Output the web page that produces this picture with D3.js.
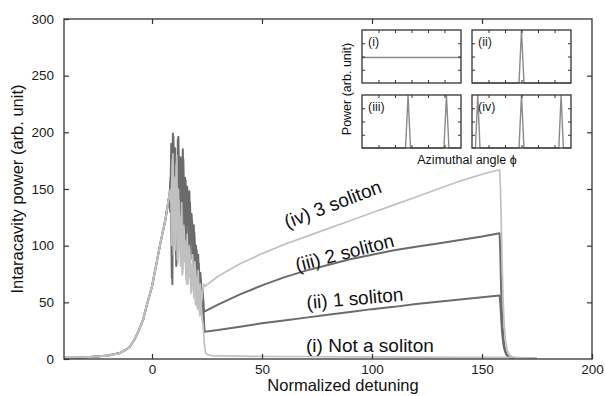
<!DOCTYPE html>
<html>
<head>
<meta charset="utf-8">
<script src="https://cdn.jsdelivr.net/npm/d3@7"></script>
<style>
  body { margin: 0; background: #fff; }
  svg { display: block; font-family: "Liberation Sans", Arial, Helvetica, sans-serif; }
</style>
</head>
<body>
<svg id="chart" width="605" height="396"></svg>
<script>
// axis ticks
const xTicks = [0, 50, 100, 150, 200];
const yTicks = [0, 50, 100, 150, 200, 250, 300];

// shared rise of the cavity power before the chaotic region (detuning, power)
const rise = [[-40, 1], [-35, 1.2], [-30, 1.6], [-25, 2.2], [-20, 3], [-15, 5], [-12, 8], [-10, 11],
  [-8, 17], [-6, 25], [-4, 35], [-2, 50], [0, 64], [2, 84], [4, 104], [6, 122], [7, 134], [8, 146]];

// chaotic region, one trace per run
const chaos1 = [[8.75, 140], [9.25, 176], [9.75, 92], [10.25, 160], [10.75, 120], [11.25, 180], [11.75, 84],
  [12.25, 140], [12.75, 98], [13.25, 126], [13.75, 74], [14.25, 112], [14.75, 86], [15.25, 104], [15.75, 66],
  [16.25, 98], [16.75, 72], [17.25, 92], [17.75, 58], [18.25, 84], [18.75, 64], [19.25, 80], [19.75, 48],
  [20.25, 72], [20.75, 44], [21.25, 66], [21.75, 38], [22.25, 52], [22.75, 36], [23.25, 30]];
const chaos2 = [[8.25, 130], [8.75, 190], [9.25, 66], [9.75, 196], [10.25, 110], [10.75, 172], [11.25, 90],
  [11.75, 194], [12.25, 150], [12.75, 100], [13.25, 168], [13.75, 140], [14.25, 176], [14.75, 98], [15.25, 158],
  [15.75, 120], [16.25, 146], [16.75, 84], [17.25, 138], [17.75, 108], [18.25, 122], [18.75, 76], [19.25, 112],
  [19.75, 90], [20.25, 96], [20.75, 64], [21.25, 84], [21.75, 56], [22.25, 70], [22.75, 40], [23.25, 52], [23.75, 28]];
const chaos3 = [[8.5, 160], [9, 72], [9.5, 199], [10, 140], [10.5, 186], [11, 82], [11.5, 150], [12, 196],
  [12.5, 120], [13, 178], [13.5, 96], [14, 185], [14.5, 130], [15, 160], [15.5, 92], [16, 152], [16.5, 118],
  [17, 148], [17.5, 88], [18, 128], [18.5, 104], [19, 118], [19.5, 72], [20, 100], [20.5, 82], [21, 92],
  [21.5, 60], [22, 76], [22.5, 50], [23, 62], [23.5, 44]];
const chaos4 = [[8.5, 150], [9, 100], [9.5, 181], [10, 130], [10.5, 96], [11, 172], [11.5, 88], [12, 150],
  [12.5, 110], [13, 82], [13.5, 138], [14, 76], [14.5, 118], [15, 96], [15.5, 70], [16, 110], [16.5, 66],
  [17, 100], [17.5, 80], [18, 60], [18.5, 92], [19, 54], [19.5, 86], [20, 66], [20.5, 46], [21, 78],
  [21.5, 42], [22, 66], [22.5, 50], [23, 60], [23.5, 66]];

// soliton branches and the final drop
const branch1 = [[23.75, 15], [24.25, 6], [25, 4], [27, 3], [30, 2.8], [40, 2.5], [60, 2.2], [80, 2],
  [100, 1.8], [120, 1.6], [140, 1.5], [158, 1.4], [165, 1.2], [175, 1.1]];
const branch2 = [[24, 24], [30, 25.5], [40, 28.5], [50, 31.5], [60, 34], [70, 36.5], [80, 39], [90, 41.5],
  [100, 44], [110, 46], [120, 48.5], [130, 50.5], [140, 52.5], [150, 54.5], [158, 56],
  [158.3, 50], [158.6, 40], [158.9, 30], [159.3, 20], [159.8, 12], [160.4, 7], [161, 4], [161.8, 2], [163, 1.2], [165, 0.8]];
const branch3 = [[24, 42], [30, 48], [40, 57], [50, 65], [60, 72], [70, 78], [80, 83], [90, 88],
  [100, 92], [110, 96], [120, 99], [130, 102], [140, 105], [150, 108], [158, 111],
  [158.3, 95], [158.6, 70], [158.9, 48], [159.3, 30], [159.8, 17], [160.4, 9], [161, 5], [161.8, 2.5], [163, 1.2], [165, 0.8]];
const branch4 = [[24, 64], [30, 73], [40, 84], [50, 93], [60, 101], [70, 108], [80, 115], [90, 122],
  [100, 129], [110, 136], [120, 143], [130, 150], [140, 157], [150, 163], [158, 167],
  [158.4, 150], [158.8, 115], [159.2, 80], [159.6, 52], [160.1, 30], [160.7, 16], [161.4, 8], [162.3, 4], [163.5, 2], [166, 1.3], [175, 1]];

// curve labels: text, anchor (detuning, power), rotation
const labelText = ["(i) Not a soliton", "(ii) 1 soliton", "(iii) 2 soliton", "(iv) 3 soliton"];
const labelPos = [[70, 6], [70.5, 44], [66, 77], [61.5, 115]];
const labelRot = [0, -5, -14.5, -21];

// inset: azimuthal profiles (angle fraction, normalised power)
const panelNames = ["(i)", "(ii)", "(iii)", "(iv)"];
const panelTraces = [
  [[0, 0.48], [1, 0.48]],
  [[0, 0], [0.475, 0], [0.5, 1], [0.525, 0], [1, 0]],
  [[0, 0], [0.44, 0], [0.465, 1], [0.49, 0], [0.828, 0], [0.853, 1], [0.878, 0], [1, 0]],
  [[0, 0], [0.035, 0], [0.058, 1], [0.081, 0], [0.475, 0], [0.5, 1], [0.525, 0], [0.877, 0], [0.9, 1], [0.923, 0], [1, 0]]
];

const dark = '#6b6b6b', light = '#c0c0c0';
const series = [
  {pts: rise.concat(chaos3, branch3), color: dark, w: 2},
  {pts: rise.concat(chaos2, branch2), color: dark, w: 2},
  {pts: rise.concat(chaos4, branch4), color: light, w: 1.7},
  {pts: rise.concat(chaos1, branch1), color: light, w: 1.7}
];

const svg = d3.select('#chart');
const margin = {top: 19, right: 13, bottom: 37, left: 64};
const width = +svg.attr('width') - margin.left - margin.right;
const height = +svg.attr('height') - margin.top - margin.bottom;

const x = d3.scaleLinear().domain([-40, 200]).range([0, width]);
const y = d3.scaleLinear().domain([0, 300]).range([height, 0]);

const g = svg.append('g')
  .attr('transform', 'translate(' + margin.left + ',' + margin.top + ')');

const line1 = d3.line()
  .x(function(d) { return x(d[0]); })
  .y(function(d) { return y(d[1]); });

g.selectAll('path.run')
  .data(series)
  .enter().append('path')
  .attr('class', 'run')
  .attr('fill', 'none')
  .attr('stroke', function(d) { return d.color; })
  .attr('stroke-width', function(d) { return d.w; })
  .attr('stroke-linejoin', 'round')
  .attr('d', function(d) { return line1(d.pts); });

// frame + inward ticks
function styleAxis(a) {
  a.select('.domain').remove();
  a.selectAll('.tick line').attr('stroke', '#333').attr('stroke-width', 1.2);
  a.selectAll('.tick text').attr('fill', '#1a1a1a').style('font-size', '13.5px');
}

g.append('g')
  .attr('transform', 'translate(0,' + height + ')')
  .call(d3.axisBottom(x).tickValues(xTicks).tickSizeInner(-5).tickSizeOuter(0).tickPadding(5))
  .call(styleAxis);
g.append('g')
  .call(d3.axisLeft(y).tickValues(yTicks).tickSizeInner(-5).tickSizeOuter(0).tickPadding(10))
  .call(styleAxis);
g.append('g')
  .call(d3.axisTop(x).tickValues(xTicks.slice(0, 4)).tickSizeInner(-5).tickSizeOuter(0).tickFormat(''))
  .call(styleAxis);
g.append('g')
  .attr('transform', 'translate(' + width + ',0)')
  .call(d3.axisRight(y).tickValues(yTicks.slice(1, 6)).tickSizeInner(-5).tickSizeOuter(0).tickFormat(''))
  .call(styleAxis);

g.append('rect')
  .attr('width', width).attr('height', height)
  .attr('fill', 'none').attr('stroke', '#333').attr('stroke-width', 1.3);

// axis titles
svg.append('text')
  .attr('x', 343).attr('y', 391)
  .attr('text-anchor', 'middle')
  .style('font-size', '16.5px')
  .attr('fill', '#111')
  .text('Normalized detuning');
svg.append('text')
  .attr('transform', 'translate(23,' + (margin.top + height / 2) + ')rotate(-90)')
  .attr('text-anchor', 'middle')
  .style('font-size', '16.5px')
  .attr('fill', '#111')
  .text('Intaracavity power (arb. unit)');

// curve labels
g.selectAll('text.lab')
  .data(labelText)
  .enter().append('text')
  .attr('class', 'lab')
  .attr('transform', function(d, i) {
    return 'translate(' + x(labelPos[i][0]) + ',' + y(labelPos[i][1]) + ')rotate(' + labelRot[i] + ')';
  })
  .style('font-size', '19px')
  .attr('fill', '#111')
  .text(function(d) { return d; });

// inset
const pw = 99, ph = 53;
const cols = [362, 472], rows = [30, 95];
const ix = d3.scaleLinear().domain([0, 1]).range([0, pw]);
const iy = d3.scaleLinear().domain([0, 1]).range([ph, 0]);
const iline = d3.line().x(function(d) { return ix(d[0]); }).y(function(d) { return iy(d[1]); });
const phiTicks = [1 / 6, 2 / 6, 3 / 6, 4 / 6, 5 / 6];
const powTicks = [0.25, 0.5, 0.75];

function styleSmall(a) {
  a.select('.domain').remove();
  a.selectAll('.tick line').attr('stroke', '#333').attr('stroke-width', 1);
}

panelTraces.forEach(function(tr, i) {
  const p = svg.append('g')
    .attr('transform', 'translate(' + cols[i % 2] + ',' + rows[Math.floor(i / 2)] + ')');
  p.append('rect').attr('width', pw).attr('height', ph).attr('fill', '#fff');
  p.append('path')
    .attr('fill', 'none')
    .attr('stroke', '#8a8a8a')
    .attr('stroke-width', 1.4)
    .attr('d', iline(tr));
  p.append('g').attr('transform', 'translate(0,' + ph + ')')
    .call(d3.axisBottom(ix).tickValues(phiTicks).tickSizeInner(-3).tickSizeOuter(0).tickFormat('')).call(styleSmall);
  p.append('g')
    .call(d3.axisTop(ix).tickValues(phiTicks).tickSizeInner(-3).tickSizeOuter(0).tickFormat('')).call(styleSmall);
  p.append('g')
    .call(d3.axisLeft(iy).tickValues(powTicks).tickSizeInner(-3).tickSizeOuter(0).tickFormat('')).call(styleSmall);
  p.append('g').attr('transform', 'translate(' + pw + ',0)')
    .call(d3.axisRight(iy).tickValues(powTicks).tickSizeInner(-3).tickSizeOuter(0).tickFormat('')).call(styleSmall);
  p.append('rect').attr('width', pw).attr('height', ph)
    .attr('fill', 'none').attr('stroke', '#333').attr('stroke-width', 1.3);
  p.append('text')
    .attr('x', 6).attr('y', 16)
    .style('font-size', '12.5px')
    .attr('fill', '#222')
    .text(panelNames[i]);
});

svg.append('text')
  .attr('x', 467).attr('y', 164)
  .attr('text-anchor', 'middle')
  .style('font-size', '12.5px')
  .attr('fill', '#111')
  .text('Azimuthal angle \u03D5');
svg.append('text')
  .attr('transform', 'translate(351,' + (rows[0] + (rows[1] + ph - rows[0]) / 2) + ')rotate(-90)')
  .attr('text-anchor', 'middle')
  .style('font-size', '12.5px')
  .attr('fill', '#111')
  .text('Power (arb. unit)');
</script>
</body>
</html>
